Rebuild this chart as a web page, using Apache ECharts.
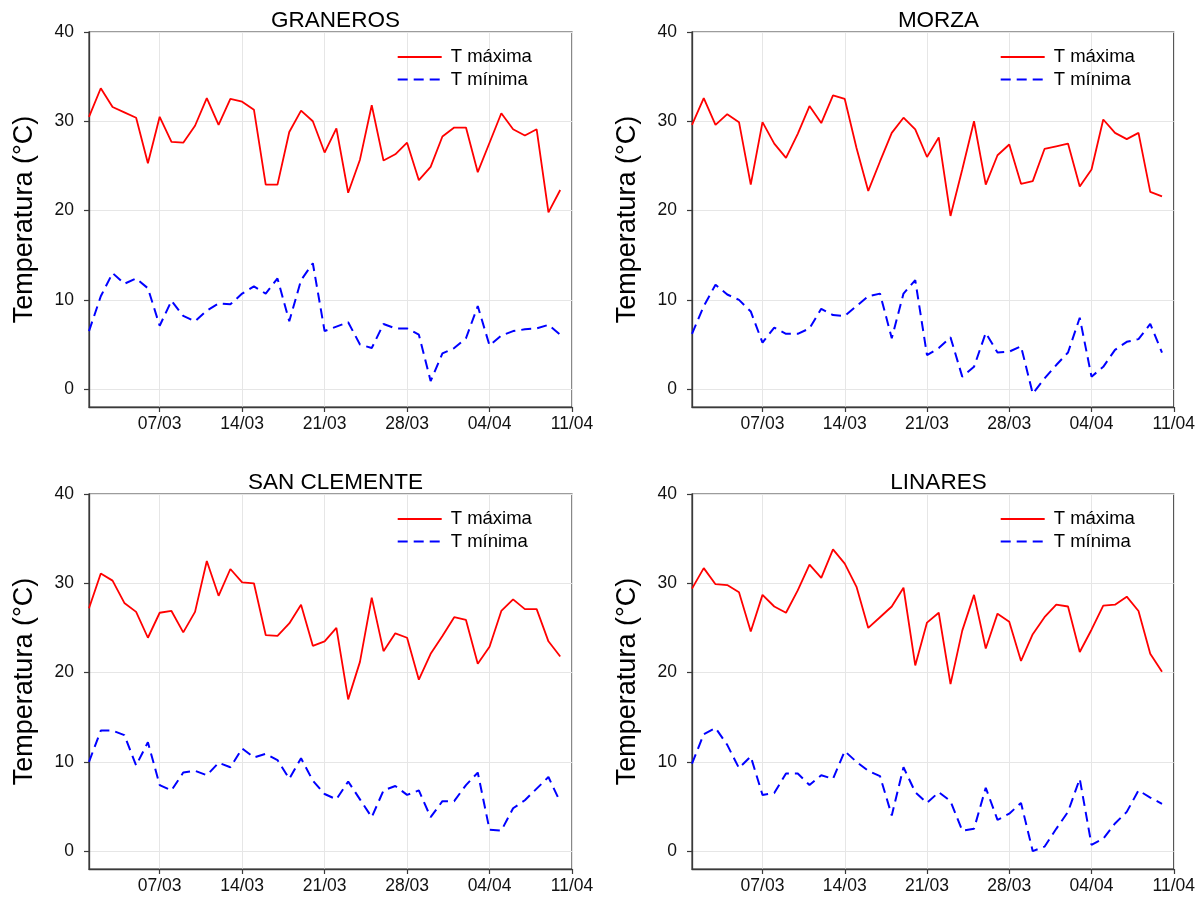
<!DOCTYPE html>
<html>
<head>
<meta charset="utf-8">
<script src="https://cdn.jsdelivr.net/npm/echarts@6/dist/echarts.min.js"></script>
<style>
html,body{margin:0;padding:0;background:#fff;}
#chart{width:1198px;height:905px;}
</style>
</head>
<body>
<div id="chart"></div>
<script>
// Daily dates, 01/03 .. 11/04
const dates = ['01/03','02/03','03/03','04/03','05/03','06/03','07/03','08/03','09/03','10/03',
  '11/03','12/03','13/03','14/03','15/03','16/03','17/03','18/03','19/03','20/03',
  '21/03','22/03','23/03','24/03','25/03','26/03','27/03','28/03','29/03','30/03','31/03',
  '01/04','02/04','03/04','04/04','05/04','06/04','07/04','08/04','09/04','10/04','11/04'];
const xTickLabels = ['07/03','14/03','21/03','28/03','04/04','11/04'];
const yTickValues = [0, 10, 20, 30, 40];
const stations = ['GRANEROS', 'MORZA', 'SAN CLEMENTE', 'LINARES'];
const seriesNames = ['T máxima', 'T mínima'];

const granerosMax = [30.5,33.7,31.6,31.0,30.4,25.3,30.5,27.7,27.6,29.5,32.6,29.6,32.5,32.2,31.3,22.9,22.9,28.8,31.2,30.0,
  26.5,29.2,22.0,25.7,31.8,25.6,26.3,27.6,23.4,24.9,28.3,29.3,29.3,24.3,27.6,30.9,29.1,28.4,29.1,19.8,22.3];
const granerosMin = [6.5,10.4,13.0,11.8,12.4,11.3,7.1,9.9,8.2,7.6,8.8,9.6,9.5,10.7,11.5,10.7,12.4,7.6,12.2,14.1,
  6.5,7.0,7.5,5.0,4.6,7.3,6.8,6.8,6.1,0.9,4.0,4.6,5.7,9.3,4.9,6.0,6.5,6.7,6.8,7.2,6.1];
const morzaMax = [29.6,32.6,29.6,30.8,29.9,22.9,29.9,27.5,25.9,28.6,31.7,29.8,32.9,32.5,27.0,22.2,25.5,28.7,30.4,29.1,
  26.0,28.2,19.4,24.6,30.0,22.9,26.2,27.4,23.0,23.3,26.9,27.2,27.5,22.7,24.6,30.2,28.7,28.0,28.7,22.1,21.6];
const morzaMin = [6.2,9.3,11.7,10.6,10.0,8.7,5.2,6.9,6.2,6.2,6.8,9.0,8.3,8.2,9.3,10.4,10.7,5.7,10.7,12.2,
  3.8,4.6,5.8,1.4,2.5,6.3,4.1,4.2,4.8,-0.5,1.2,2.7,4.1,8.0,1.4,2.5,4.4,5.3,5.6,7.3,4.1];
const sanClementeMax = [27.2,31.1,30.3,27.8,26.8,23.9,26.7,26.9,24.5,26.8,32.5,28.6,31.6,30.1,30.0,24.2,24.1,25.5,27.6,23.0,
  23.5,25.0,17.0,21.2,28.4,22.4,24.4,23.9,19.2,22.1,24.1,26.2,25.9,21.0,22.9,26.9,28.2,27.1,27.1,23.5,21.8];
const sanClementeMin = [10.0,13.5,13.5,13.0,9.6,12.2,7.4,6.8,8.8,9.0,8.5,9.9,9.4,11.5,10.5,10.9,10.2,8.1,10.4,7.9,
  6.4,5.8,7.8,5.8,3.8,6.8,7.3,6.3,6.8,3.8,5.6,5.6,7.4,8.8,2.4,2.3,4.8,5.7,7.0,8.3,5.5];
const linaresMax = [29.4,31.7,29.9,29.8,29.0,24.6,28.7,27.4,26.7,29.2,32.1,30.6,33.8,32.2,29.6,25.0,26.2,27.4,29.5,20.8,
  25.6,26.7,18.7,24.7,28.7,22.7,26.6,25.7,21.3,24.3,26.2,27.6,27.4,22.3,24.8,27.5,27.6,28.5,26.9,22.1,20.1];
const linaresMin = [9.8,13.1,13.8,11.9,9.3,10.6,6.3,6.5,8.7,8.7,7.4,8.5,8.1,11.2,10.0,9.0,8.4,4.0,9.4,6.6,
  5.4,6.6,5.6,2.3,2.5,7.1,3.5,4.2,5.4,0.0,0.5,2.5,4.4,8.1,0.7,1.4,3.1,4.4,6.8,6.0,5.3];

const maxData = [granerosMax, morzaMax, sanClementeMax, linaresMax];
const minData = [granerosMin, morzaMin, sanClementeMin, linaresMin];

const FONT = '"Liberation Sans", Arial, sans-serif';
const lefts = [89, 692];
const tops = [32, 494];
const W = 483, H = 375;

const showTick = (idx, val) => xTickLabels.indexOf(val) >= 0;

const grids = [], xAxes = [], yAxes = [], series = [], titles = [], legends = [];
for (let k = 0; k < 4; k++) {
  const L = lefts[k % 2], T = tops[Math.floor(k / 2)];
  grids.push({left: L, top: T, width: W, height: H, show: true, borderColor: '#3a3a3a', borderWidth: 1.2, backgroundColor: 'transparent'});
  titles.push({
    text: stations[k], left: L + W / 2, top: T - 28, textAlign: 'center',
    textStyle: {fontFamily: FONT, fontSize: 22.5, fontWeight: 'normal', color: '#000'}
  });
  xAxes.push({
    type: 'category', gridIndex: k, data: dates, boundaryGap: false,
    axisLine: {show: true, onZero: false, lineStyle: {color: '#3a3a3a', width: 1.3}},
    axisTick: {show: true, interval: showTick, length: 5, lineStyle: {color: '#3a3a3a', width: 1.2}},
    axisLabel: {interval: showTick, fontFamily: FONT, fontSize: 17.5, color: '#111', margin: 8, showMinLabel: true, showMaxLabel: true},
    splitLine: {show: true, interval: showTick, lineStyle: {color: '#e6e6e6', width: 1}}
  });
  yAxes.push({
    type: 'value', gridIndex: k, min: -2, max: 40,
    name: 'Temperatura (°C)', nameLocation: 'middle', nameGap: 51,
    nameTextStyle: {fontFamily: FONT, fontSize: 27, color: '#000'},
    axisLine: {show: true, onZero: false, lineStyle: {color: '#3a3a3a', width: 1.3}},
    axisTick: {show: true, customValues: yTickValues, length: 5, lineStyle: {color: '#3a3a3a', width: 1.2}},
    axisLabel: {customValues: yTickValues, fontFamily: FONT, fontSize: 17.5, color: '#111', margin: 15},
    splitLine: {show: true, lineStyle: {color: '#e6e6e6', width: 1}}
  });
  series.push({
    name: seriesNames[0], type: 'line', xAxisIndex: k, yAxisIndex: k, data: maxData[k],
    symbol: 'none', lineStyle: {color: '#ff0000', width: 1.8}, itemStyle: {color: '#ff0000'}, animation: false
  });
  series.push({
    name: seriesNames[1], type: 'line', xAxisIndex: k, yAxisIndex: k, data: minData[k],
    symbol: 'none', lineStyle: {color: '#0000ff', width: 2, type: [10, 6]}, itemStyle: {color: '#0000ff'}, animation: false
  });
  legends.push({
    seriesIndex: [2 * k, 2 * k + 1],
    data: seriesNames,
    orient: 'vertical', left: L + 307.7, top: T + 15, padding: 0,
    itemWidth: 44, itemHeight: 14, itemGap: 2.6,
    itemStyle: {opacity: 0},
    textStyle: {fontFamily: FONT, fontSize: 18.5, color: '#000', lineHeight: 20, padding: [0, 0, 0, 4]},
    selectedMode: false
  });
}

const chart = echarts.init(document.getElementById('chart'), null, {renderer: 'canvas'});
chart.setOption({
  backgroundColor: '#fff',
  animation: false,
  title: titles,
  grid: grids,
  xAxis: xAxes,
  yAxis: yAxes,
  legend: legends,
  series: series
});
</script>
</body>
</html>
